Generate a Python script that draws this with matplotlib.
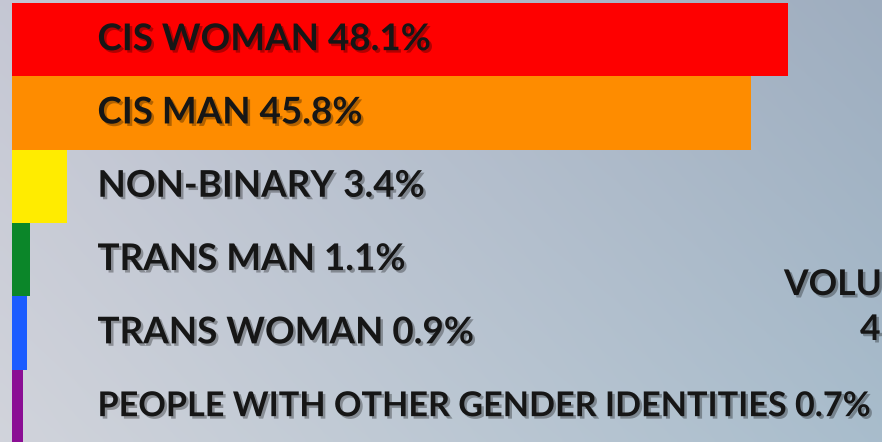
import numpy as np
import matplotlib
matplotlib.use("Agg")
import matplotlib.pyplot as plt
import matplotlib.patheffects as pe

categories = ["CIS WOMAN", "CIS MAN", "NON-BINARY", "TRANS MAN", "TRANS WOMAN",
              "PEOPLE WITH OTHER GENDER IDENTITIES"]
values = [48.1, 45.8, 3.4, 1.1, 0.9, 0.7]
colors = ["#fe0000", "#fe8c00", "#ffec00", "#0b8629", "#1b5cff", "#8b0e94"]
side_texts = ["VOLU", "4"]

fig = plt.figure(figsize=(8.82, 4.42), dpi=100)

# background gradient
bg = fig.add_axes([0, 0, 1, 1])
bg.set_axis_off()
tl = np.array([0.77, 0.78, 0.83]); bl = np.array([0.82, 0.83, 0.86])
tr = np.array([0.62, 0.68, 0.75]); br = np.array([0.66, 0.74, 0.80])
nx, ny = 200, 100
u = np.linspace(0, 1, nx)[None, :, None]
v = np.linspace(0, 1, ny)[:, None, None]
img = (1 - u) * ((1 - v) * tl + v * bl) + u * ((1 - v) * tr + v * br)
bg.imshow(img, aspect="auto", extent=[0, 1, 0, 1], interpolation="bilinear")
bg.set_xlim(0, 1); bg.set_ylim(0, 1)

ax = fig.add_axes([0, 0, 1, 1])
ax.patch.set_alpha(0)
y = np.arange(len(categories))
ax.barh(y, values, height=1.0, color=colors, edgecolor="none")
ax.set_xlim(-0.744, 53.94)
ax.set_ylim(5.489, -0.541)
ax.set_axis_off()

shadow = [pe.SimplePatchShadow(offset=(1.8, -1.8), shadow_rgbFace="black", alpha=0.3), pe.Normal()]
for yi, (c, val) in enumerate(zip(categories, values)):
    fs = 24.6 if len(c) > 20 else 26.5
    ax.text(5.3, yi, f"{c} {val}%", fontsize=fs, fontweight="bold", family="Lato",
            color="#161616", va="center", ha="left", path_effects=shadow)

fig.text(784 / 882, 1 - 285 / 442, side_texts[0], fontsize=25.5, fontweight="bold", family="Lato",
         color="#161616", va="center", ha="left", path_effects=shadow)
fig.text(860 / 882, 1 - 330 / 442, side_texts[1], fontsize=25.5, fontweight="bold", family="Lato",
         color="#161616", va="center", ha="left", path_effects=shadow)

fig.savefig("out.png", dpi=100)
